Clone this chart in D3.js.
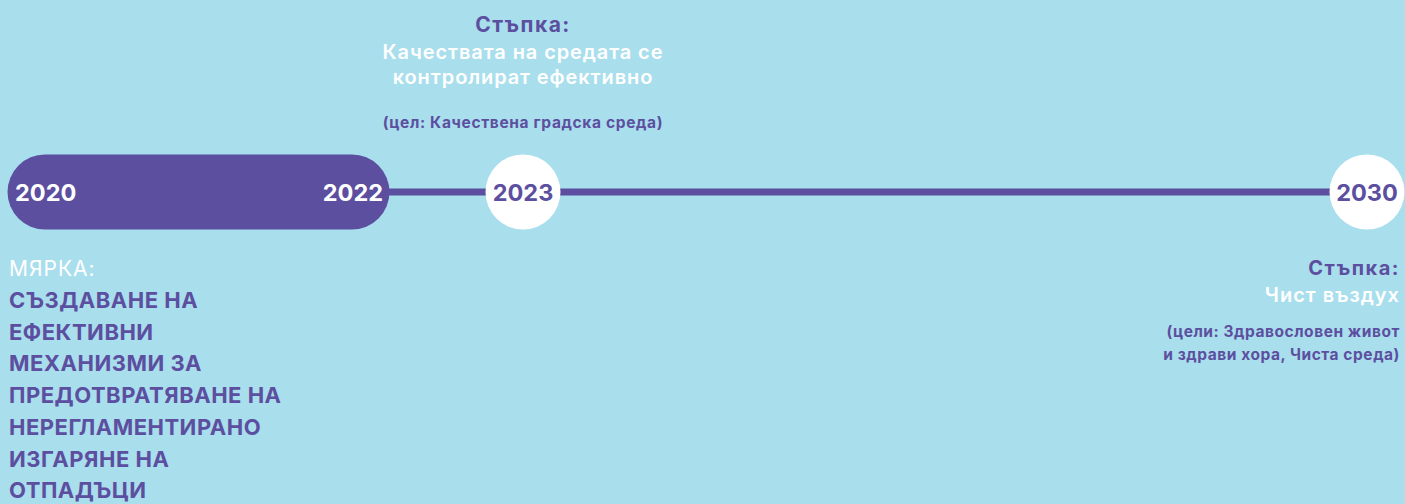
<!DOCTYPE html>
<html lang="bg">
  <head>
    <meta charset="UTF-8" />
    <title>Timeline</title>
    <style>
      body {
        margin: 0;
        background: #a9deed;
      }
      svg text {
        font-family: Inter, "Noto Sans", sans-serif;
      }
    </style>
  </head>
  <body>
    <svg id="svg" width="1405" height="504"></svg>
    <script src="https://cdn.jsdelivr.net/npm/d3@7"></script>
    <script>
      // CONSTANTS
      const WIDTH = 1405;
      const HEIGHT = 504;
      const PURPLE = "#5c4f9f";
      const BG = "#a9deed";
      const R = 37.5;
      const LINE_Y = 192;

      // data
      const years = [2020, 2022, 2023, 2030];
      const periodYears = [2020, 2022]; // filled pill
      const milestoneYears = [2023, 2030]; // white circles
      const topStepTitle = "Стъпка:";
      const topStepLines = ["Качествата на средата се", "контролират ефективно"];
      const topGoalLines = ["(цел: Качествена градска среда)"];
      const measureTitle = "МЯРКА:";
      const measureLines = [
        "СЪЗДАВАНЕ НА",
        "ЕФЕКТИВНИ",
        "МЕХАНИЗМИ ЗА",
        "ПРЕДОТВРАТЯВАНЕ НА",
        "НЕРЕГЛАМЕНТИРАНО",
        "ИЗГАРЯНЕ НА",
        "ОТПАДЪЦИ",
      ];
      const rightStepTitle = "Стъпка:";
      const rightStepLines = ["Чист въздух"];
      const rightGoalLines = ["(цели: Здравословен живот", "и здрави хора, Чиста среда)"];

      const x = d3.scaleLinear().domain(years).range([45, 352, 523, 1367]);

      const svg = d3.select("#svg");
      svg.append("rect").attr("width", WIDTH).attr("height", HEIGHT).attr("fill", BG);

      // connecting line
      svg
        .append("line")
        .attr("x1", x(2022))
        .attr("x2", x(2030))
        .attr("y1", LINE_Y)
        .attr("y2", LINE_Y)
        .attr("stroke", PURPLE)
        .attr("stroke-width", 7);

      // pill 2020-2022
      svg
        .append("rect")
        .attr("x", x(periodYears[0]) - R)
        .attr("y", LINE_Y - R)
        .attr("width", x(periodYears[1]) - x(periodYears[0]) + 2 * R)
        .attr("height", 2 * R)
        .attr("rx", R)
        .attr("fill", PURPLE);

      svg
        .append("text")
        .attr("x", x(2020) - 30)
        .attr("y", LINE_Y + 8.5)
        .attr("fill", "#fff")
        .attr("font-weight", 700)
        .attr("font-size", 23.5)
        .text(2020);
      svg
        .append("text")
        .attr("x", x(2022) + 31)
        .attr("y", LINE_Y + 8.5)
        .attr("text-anchor", "end")
        .attr("fill", "#fff")
        .attr("font-weight", 700)
        .attr("font-size", 23.5)
        .text(2022);

      // milestones
      const ms = svg
        .selectAll("g.ms")
        .data(milestoneYears)
        .enter()
        .append("g")
        .attr("class", "ms")
        .attr("transform", (d) => `translate(${x(d)}, ${LINE_Y})`);
      ms.append("circle").attr("r", R).attr("fill", "#fff");
      ms.append("text")
        .attr("y", 8.5)
        .attr("text-anchor", "middle")
        .attr("fill", PURPLE)
        .attr("font-weight", 700)
        .attr("font-size", 23.5)
        .text((d) => d);

      // text blocks
      function block(lines, xPos, y0, step, opts) {
        svg
          .append("g")
          .selectAll("text")
          .data(lines)
          .enter()
          .append("text")
          .attr("x", xPos)
          .attr("y", (d, i) => y0 + i * step)
          .attr("text-anchor", opts.anchor)
          .attr("fill", opts.fill)
          .attr("font-weight", opts.weight)
          .attr("font-size", opts.size)
          .attr("letter-spacing", opts.ls || 0)
          .text((d) => d);
      }

      // top (2023)
      block([topStepTitle], x(2023), 32, 0, { anchor: "middle", fill: PURPLE, weight: 700, size: 21, ls: 1.5 });
      block(topStepLines, x(2023), 59, 25, { anchor: "middle", fill: "#fff", weight: 600, size: 20, ls: 0.9 });
      block(topGoalLines, x(2023), 128, 0, { anchor: "middle", fill: PURPLE, weight: 700, size: 15.5, ls: 0.65 });

      // bottom left (measure)
      block([measureTitle], 9, 276, 0, { anchor: "start", fill: "#fff", weight: 400, size: 21, ls: 1 });
      block(measureLines, 9, 308, 31.7, { anchor: "start", fill: PURPLE, weight: 700, size: 22, ls: 0.5 });

      // right (2030)
      block([rightStepTitle], 1400, 275, 0, { anchor: "end", fill: PURPLE, weight: 700, size: 20, ls: 1.5 });
      block(rightStepLines, 1400, 302, 0, { anchor: "end", fill: "#fff", weight: 600, size: 20, ls: 1 });
      block(rightGoalLines, 1400, 337, 23, { anchor: "end", fill: PURPLE, weight: 700, size: 15.5, ls: 0.55 });
    </script>
  </body>
</html>
